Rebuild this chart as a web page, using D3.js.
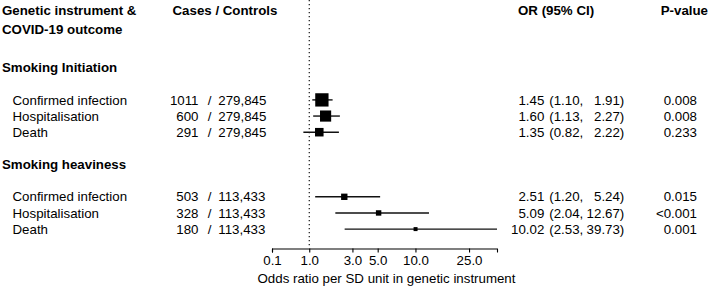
<!DOCTYPE html>
<html>
<head>
<meta charset="utf-8">
<script src="https://cdn.jsdelivr.net/npm/d3@7"></script>
<style>
  html, body { margin: 0; padding: 0; background: #fff; }
  svg { display: block; font-family: "Liberation Sans", Arial, sans-serif; }
</style>
</head>
<body>
<svg id="chart" width="709" height="294"></svg>
<script>
// ---------- data ----------
const groups = ["Smoking Initiation", "Smoking heaviness"];
const outcomes = ["Confirmed infection", "Hospitalisation", "Death"];
const cases = [1011, 600, 291, 503, 328, 180];
const controls = [279845, 279845, 279845, 113433, 113433, 113433];
const orValues = [1.45, 1.60, 1.35, 2.51, 5.09, 10.02];
const ciLow = [1.10, 1.13, 0.82, 1.20, 2.04, 2.53];
const ciHigh = [1.91, 2.27, 2.22, 5.24, 12.67, 39.73];
const pValues = ["0.008", "0.008", "0.233", "0.015", "<0.001", "0.001"];
const xTicks = [0.1, 1, 3, 5, 10, 25];
const headers = { left: ["Genetic instrument &", "COVID-19 outcome"], cases: "Cases / Controls", or: "OR (95% CI)", p: "P-value" };
const xLabel = "Odds ratio per SD unit in genetic instrument";

// ---------- layout ----------
const FS = 13.3;
const svg = d3.select("#chart");
const rows = [];
groups.forEach((g, gi) => {
  outcomes.forEach((o, oi) => {
    const k = gi * outcomes.length + oi;
    rows.push({ group: gi, name: o, cases: cases[k], controls: controls[k], or: orValues[k], lo: ciLow[k], hi: ciHigh[k], p: pValues[k], line: 6 + gi * 6 + oi });
  });
});

const y = d3.scaleLinear().domain([0, 1]).range([3, 3 + 16.15]);
const xMin = d3.min(xTicks), xMax = d3.max(ciHigh);
const x = d3.scaleSymlog().constant(1).domain([xMin, xMax]).range([272, 497]);
const axisY = 248.5;

const precision = rows.map(r => 2 * 1.96 / (Math.log(r.hi) - Math.log(r.lo)));
const boxScale = d3.scalePow().exponent(0.75).domain([0, d3.max(precision)]).range([0, 13.3]);

// ---------- header ----------
const hdr = svg.append("g").attr("font-weight", "bold").attr("font-size", FS).attr("fill", "#000");
hdr.append("text").attr("x", 2).attr("y", 14.5).text(headers.left[0]);
hdr.append("text").attr("x", 2).attr("y", 34).text(headers.left[1]);
hdr.append("text").attr("x", 172.5).attr("y", 14.5).text(headers.cases);
hdr.append("text").attr("x", 518).attr("y", 14.5).text(headers.or);
hdr.append("text").attr("x", 708).attr("y", 14.5).attr("text-anchor", "end").text(headers.p);

// group titles
groups.forEach((g, gi) => {
  hdr.append("text").attr("x", 2).attr("y", y(4 + gi * 6)).attr("dy", "0.35em").text(g);
});

// ---------- reference line ----------
svg.append("line")
  .attr("x1", x(1)).attr("x2", x(1))
  .attr("y1", 0).attr("y2", axisY - 2)
  .attr("stroke", "#000").attr("stroke-width", 1.1)
  .attr("stroke-dasharray", "1.2,2.8");

// ---------- rows ----------
const fmt2 = d3.format(".2f");
const fmtN = d3.format(",");
const rowG = svg.append("g").attr("font-size", FS).attr("fill", "#000");
rows.forEach((r, i) => {
  const cy = y(r.line);
  const t = (xx, s, anchor) => rowG.append("text").attr("x", xx).attr("y", cy).attr("dy", "0.35em").attr("text-anchor", anchor).text(s);
  t(12.5, r.name, "start");
  t(198.5, r.cases, "end");
  t(209.5, "/", "middle");
  t(218.3, fmtN(r.controls), "start");
  t(544.3, fmt2(r.or), "end");
  t(549.3, "(" + fmt2(r.lo) + ",", "start");
  t(624.3, fmt2(r.hi) + ")", "end");
  t(697, r.p, "end");

  svg.append("line")
    .attr("x1", x(r.lo)).attr("x2", x(r.hi))
    .attr("y1", cy).attr("y2", cy)
    .attr("stroke", "#111").attr("stroke-width", 1.4);
  const s = boxScale(precision[i]);
  svg.append("rect")
    .attr("x", x(r.or) - s / 2).attr("y", cy - s / 2)
    .attr("width", s).attr("height", s)
    .attr("fill", "#000");
});

// ---------- axis ----------
const axis = d3.axisBottom(x).tickValues(xTicks).tickFormat(d3.format(".1f")).tickSizeOuter(0).tickSize(4).tickPadding(3);
const ag = svg.append("g").attr("transform", `translate(0,${axisY})`).call(axis);
ag.selectAll("text").attr("font-size", FS).attr("font-family", "Liberation Sans, Arial, sans-serif").attr("fill", "#000");
ag.selectAll("line,path").attr("stroke", "#000").attr("stroke-width", 1.1);

svg.append("text")
  .attr("x", (x.range()[0] + x.range()[1]) / 2 + 2)
  .attr("y", 283)
  .attr("text-anchor", "middle")
  .attr("font-size", FS).attr("fill", "#000")
  .text(xLabel);
</script>
</body>
</html>
